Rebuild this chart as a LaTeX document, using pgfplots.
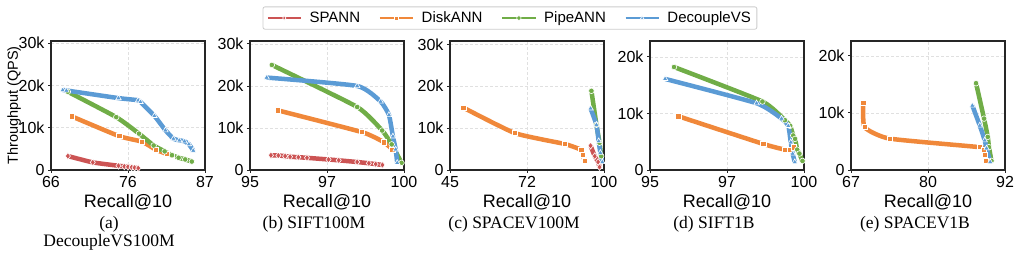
\documentclass[border=0pt]{standalone}
\usepackage{pgfplots}
\pgfplotsset{compat=1.18}
\usepackage{fontspec}
\setmainfont{Liberation Sans}
\newfontfamily\capfont{Liberation Serif}
\definecolor{cspann}{RGB}{204,84,84}
\definecolor{cdisk}{RGB}{240,136,58}
\definecolor{cpipe}{RGB}{112,173,71}
\definecolor{cdec}{RGB}{91,155,213}
\pgfplotsset{
 panel/.style={scale only axis, width=154pt, height=129pt, enlargelimits=false,
  scaled ticks=false,
  axis line style={black!85,line width=1.1pt},
  tick style={black!85,line width=0.9pt}, tick align=outside, major tick length=3pt, tick pos=left,
  grid=major, grid style={densely dashed, black!12, line width=0.6pt},
  ticklabel style={font=\fontsize{16}{16}\selectfont},
  xlabel={Recall@10}, xlabel style={font=\fontsize{18}{18}\selectfont},
  every axis plot/.append style={smooth, tension=0.3},
  legend image code/.code={\draw[mark repeat=2,mark phase=2,##1,line width=1.6pt,mark size=2.2pt] plot coordinates {(0pt,0pt) (16.5pt,0pt) (33pt,0pt)};},
 },
 spann/.style={color=cspann, line width=4.5pt, mark=diamond*, mark size=3.4pt, mark options={draw=white, fill=cspann, line width=0.6pt, solid}},
 disk/.style={color=cdisk, line width=4.5pt, mark=square*, mark size=2.6pt, mark options={draw=white, fill=cdisk, line width=0.6pt, solid}},
 pipe/.style={color=cpipe, line width=4.5pt, mark=*, mark size=2.8pt, mark options={draw=white, fill=cpipe, line width=0.6pt, solid}},
 dec/.style={color=cdec, line width=4.5pt, mark=triangle*, mark size=3.2pt, mark options={draw=white, fill=cdec, line width=0.6pt, solid}},
}
\begin{document}
\begin{tikzpicture}
\path[use as bounding box] (0,0) rectangle (1020pt,262pt);
% (a)
\begin{axis}[panel, at={(51pt,92pt)}, anchor=south west,
 xmin=66, xmax=87, xtick={66,76.5,87}, xticklabels={66,76,87},
 ymin=0, ymax=30500, ytick={0,10000,20000,30000}, yticklabels={0,10k,20k,30k},
 ylabel={Throughput (QPS)}, ylabel style={font=\fontsize{14.5}{14.5}\selectfont}, ylabel shift=-9pt,
 legend columns=4,
 legend style={at={(axis description cs:2.98,1.178)}, anchor=center, draw=black!20, rounded corners=2pt, line width=0.8pt,
  font=\fontsize{15}{15}\selectfont, /tikz/every odd column/.append style={column sep=6pt},
  /tikz/every even column/.append style={column sep=17pt}, inner ysep=3pt, inner xsep=4pt},
]
\addplot[spann] coordinates {(68.3,3300) (71.7,1800) (75.2,1000) (76.0,850) (76.5,750) (77.0,650) (77.4,550) (77.9,450)};
\addlegendentry{SPANN}
\addplot[disk] coordinates {(68.8,12700) (75.3,8000) (78.4,6700) (80.3,4800) (81.8,3800) (82.5,3400)};
\addlegendentry{DiskANN}
\addplot[pipe] coordinates {(68.3,18500) (74.9,12500) (78.0,8600) (80.0,5800) (81.5,4400) (82.5,3500) (83.4,2900) (84.3,2500) (85.2,2000)};
\addlegendentry{PipeANN}
\addplot[dec] coordinates {(67.6,18900) (68.1,18800) (75.2,17000) (77.9,16500) (78.2,16100) (80.1,12800) (81.6,9400) (82.7,7400) (83.5,7000) (84.2,6800) (84.8,6100) (85.4,4600)};
\addlegendentry{DecoupleVS}
\end{axis}
% (b)
\begin{axis}[panel, at={(250pt,92pt)}, anchor=south west,
 xmin=95, xmax=100, xtick={95,97.5,100}, xticklabels={95,97,100},
 ymin=0, ymax=30700, ytick={0,10000,20000,30000}, yticklabels={0,10k,20k,30k},
]
\addplot[spann] coordinates {(95.68,3500) (95.92,3450) (96.14,3300) (96.3,3150) (96.57,3050) (96.85,2900) (97.55,2500) (97.88,2300) (98.48,1900) (98.86,1600) (99.08,1400) (99.3,1200)};
\addplot[disk] coordinates {(95.9,14200) (98.64,9000) (99.35,6600) (99.62,4900)};
\addplot[pipe] coordinates {(95.71,25000) (98.48,15000) (99.29,9400) (99.6,6100) (99.92,1700)};
\addplot[dec] coordinates {(95.54,22000) (98.48,20000) (99.24,16300) (99.51,13100) (99.64,8000) (99.73,4900) (99.78,1700)};
\end{axis}
% (c)
\begin{axis}[panel, at={(450pt,92pt)}, anchor=south west,
 xmin=45, xmax=100, xtick={45,72.5,100}, xticklabels={45,72,100},
 ymin=0, ymax=30800, ytick={0,10000,20000,30000}, yticklabels={0,10k,20k,30k},
]
\addplot[spann] coordinates {(95.2,5800) (96.7,3300) (97.9,1900) (98.4,700)};
\addplot[disk] coordinates {(49.75,14900) (68.2,8800) (86.0,6200) (91.9,4800) (92.4,3700) (93.1,2200)};
\addplot[pipe] coordinates {(95.5,18900) (97.3,10800) (98.4,6500) (99.0,3300)};
\addplot[dec] coordinates {(95.2,14700) (97.3,10800) (98.1,6900) (98.7,4100) (99.4,1900)};
\end{axis}
% (d)
\begin{axis}[panel, at={(650pt,92pt)}, anchor=south west,
 xmin=95, xmax=100, xtick={95,97.5,100}, xticklabels={95,97,100},
 ymin=0, ymax=22800, ytick={0,10000,20000}, yticklabels={0,10k,20k},
]
\addplot[disk] coordinates {(95.92,9500) (98.68,4600) (99.38,3600) (99.55,3600) (99.68,4000)};
\addplot[pipe] coordinates {(95.78,18200) (98.65,12100) (99.38,8800) (99.55,7800) (99.65,6100) (99.71,5500) (99.78,3600) (99.85,2900) (99.95,1600)};
\addplot[dec] coordinates {(95.49,16100) (98.46,11800) (99.27,9100) (99.49,7800) (99.57,4900) (99.63,2900) (99.7,1400)};
\end{axis}
% (e)
\begin{axis}[panel, at={(851pt,92pt)}, anchor=south west,
 xmin=67, xmax=92, xtick={67,79.5,92}, xticklabels={67,80,92},
 ymin=0, ymax=22600, ytick={0,10000,20000}, yticklabels={0,10k,20k},
]
\addplot[disk] coordinates {(69.0,11800) (69.2,7500) (73.25,5500) (87.9,4000) (88.6,3600) (88.7,2600) (88.9,1600)};
\addplot[pipe] coordinates {(87.3,15200) (88.6,9000) (89.2,5800) (89.4,4000) (89.8,1600)};
\addplot[dec] coordinates {(86.7,11300) (87.9,7800) (88.7,5200) (89.0,3800) (89.6,1400)};
\end{axis}
% captions
\begin{scope}[every node/.style={font=\capfont\fontsize{17.5}{17.5}\selectfont, anchor=base, inner sep=0pt}]
\node at (109pt,33pt) {(a)};
\node at (109pt,15pt) {DecoupleVS100M};
\node at (314pt,33pt) {(b) SIFT100M};
\node at (514pt,33pt) {(c) SPACEV100M};
\node at (714pt,33pt) {(d) SIFT1B};
\node at (915pt,33pt) {(e) SPACEV1B};
\end{scope}
\end{tikzpicture}
\end{document}
